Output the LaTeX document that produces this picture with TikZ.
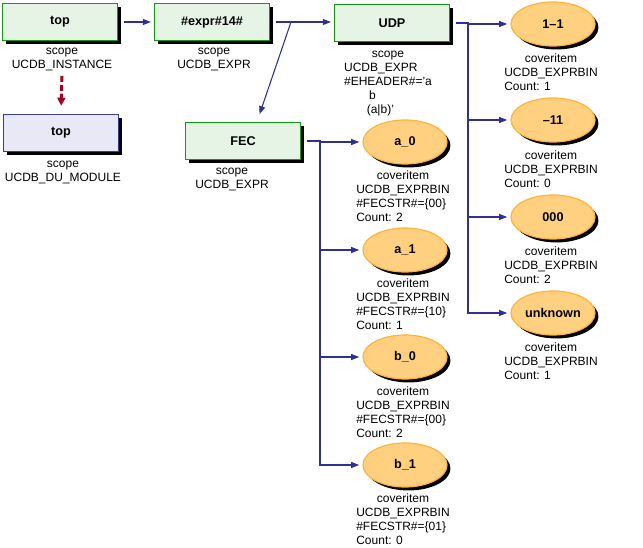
\documentclass[tikz,border=0pt]{standalone}
\usepackage{fontspec}
\setmainfont{Liberation Sans}
\usetikzlibrary{arrows.meta,shadows,shapes.geometric}

\definecolor{boxfill}{HTML}{E6F4E6}
\definecolor{boxline}{HTML}{119911}
\definecolor{dufill}{HTML}{E8E8F6}
\definecolor{duline}{HTML}{3A3A9C}
\definecolor{ovalfill}{HTML}{FFD080}
\definecolor{ovalline}{HTML}{FFB438}
\definecolor{linkblue}{HTML}{2E3192}
\definecolor{depred}{HTML}{A50021}

% label under a node: first line centred, the rest flush left
\newcommand{\nlabel}[2]{\begin{tabular}{@{}l@{}}\multicolumn{1}{@{}c@{}}{#1}\\#2\end{tabular}}

\begin{document}
\begin{tikzpicture}[x=0.75pt,y=-0.75pt,
  font=\fontsize{9}{10.5}\selectfont,
  scopebox/.style={draw=boxline,fill=boxfill,line width=0.9pt,
    minimum width=86pt,minimum height=28pt,inner sep=0pt,
    font=\fontsize{9.5}{11}\selectfont\bfseries,
    drop shadow={shadow xshift=2.6pt,shadow yshift=-2.6pt,fill=black,opacity=1}},
  dubox/.style={scopebox,draw=duline,fill=dufill},
  binoval/.style={ellipse,draw=ovalline,fill=ovalfill,line width=0.9pt,
    minimum width=63pt,minimum height=33pt,inner sep=0pt,
    font=\fontsize{9.5}{11}\selectfont\bfseries,
    drop shadow={shadow xshift=2.6pt,shadow yshift=-2.6pt,fill=black,opacity=1}},
  lbl/.style={anchor=north,inner sep=0pt},
  link/.style={draw=linkblue,line width=0.8pt,
    -{Triangle[length=6pt,width=4.5pt]},shorten >=2.4pt},
  dep/.style={draw=depred,line width=2.2pt,dash pattern=on 4.5pt off 2.2pt,
    -{Triangle[length=6pt,width=6pt]}}]
\useasboundingbox (0,0) rectangle (643,548);

% scopes
\node[scopebox] (top1) at (60,22) {top};
\node[scopebox] (expr) at (212,22) {\#expr\#14\#};
\node[scopebox] (UDP) at (392,23) {UDP};
\node[dubox] (top2) at (61,133) {top};
\node[scopebox] (FEC) at (243,141) {FEC};

\node[lbl] (top1l) at (62,44) {\nlabel{scope}{UCDB\_INSTANCE}};
\node[lbl] (exprl) at (214,44) {\nlabel{scope}{UCDB\_EXPR}};
\node[lbl] (UDPl) at (388,47) {\nlabel{scope}{UCDB\_EXPR\\\#EHEADER\#='a\\\hspace*{18.75pt}b\\\hspace*{17pt}(a|b)'}};
\node[lbl] (top2l) at (63,157) {\nlabel{scope}{UCDB\_DU\_MODULE}};
\node[lbl] (FECl) at (232,164) {\nlabel{scope}{UCDB\_EXPR}};

% bins of UDP
\node[binoval] (e11) at (553,24) {1\textendash 1};
\node[binoval] (em11) at (553,120) {\textendash 11};
\node[binoval] (e000) at (553,217) {000};
\node[binoval] (eunk) at (553,313) {unknown};

\node[lbl] (e11l) at (551,52) {\nlabel{coveritem}{UCDB\_EXPRBIN\\Count: 1}};
\node[lbl] (em11l) at (551,149) {\nlabel{coveritem}{UCDB\_EXPRBIN\\Count: 0}};
\node[lbl] (e000l) at (551,245) {\nlabel{coveritem}{UCDB\_EXPRBIN\\Count: 2}};
\node[lbl] (eunkl) at (551,341) {\nlabel{coveritem}{UCDB\_EXPRBIN\\Count: 1}};

% bins of FEC
\node[binoval] (a0) at (405,142) {a\_0};
\node[binoval] (a1) at (405,250) {a\_1};
\node[binoval] (b0) at (405,357) {b\_0};
\node[binoval] (b1) at (405,465) {b\_1};

\node[lbl] (a0l) at (403,169) {\nlabel{coveritem}{UCDB\_EXPRBIN\\\#FECSTR\#=\{00\}\\Count: 2}};
\node[lbl] (a1l) at (403,277) {\nlabel{coveritem}{UCDB\_EXPRBIN\\\#FECSTR\#=\{10\}\\Count: 1}};
\node[lbl] (b0l) at (403,385) {\nlabel{coveritem}{UCDB\_EXPRBIN\\\#FECSTR\#=\{00\}\\Count: 2}};
\node[lbl] (b1l) at (403,492) {\nlabel{coveritem}{UCDB\_EXPRBIN\\\#FECSTR\#=\{01\}\\Count: 0}};

% connectors
\coordinate (fork1) at (291,22);
\coordinate (bus1) at (320,0);
\coordinate (bus2) at (468,0);

\draw[link,shorten <=4.8pt] (top1.east) -- (expr.west);
\draw[link,shorten <=4.5pt] (expr.east) -- (UDP.west |- expr.east);
\draw[link,shorten >=6pt] (fork1) -- ([shift={(14,0)}]FEC.north);
\draw[dep,shorten <=2.5pt,shorten >=6pt] (top1l.south) -- (top2.north);

\draw[link,shorten <=4.5pt] (UDP.east) -- (UDP.east -| bus2) |- (e11.west);
\draw[link,shorten <=4.5pt] (UDP.east) -- (UDP.east -| bus2) |- (em11.west);
\draw[link,shorten <=4.5pt] (UDP.east) -- (UDP.east -| bus2) |- (e000.west);
\draw[link,shorten <=4.5pt] (UDP.east) -- (UDP.east -| bus2) |- (eunk.west);

\draw[link,shorten <=4.5pt] (FEC.east) -- (FEC.east -| bus1) |- (a0.west);
\draw[link,shorten <=4.5pt] (FEC.east) -- (FEC.east -| bus1) |- (a1.west);
\draw[link,shorten <=4.5pt] (FEC.east) -- (FEC.east -| bus1) |- (b0.west);
\draw[link,shorten <=4.5pt] (FEC.east) -- (FEC.east -| bus1) |- (b1.west);
\end{tikzpicture}
\end{document}
